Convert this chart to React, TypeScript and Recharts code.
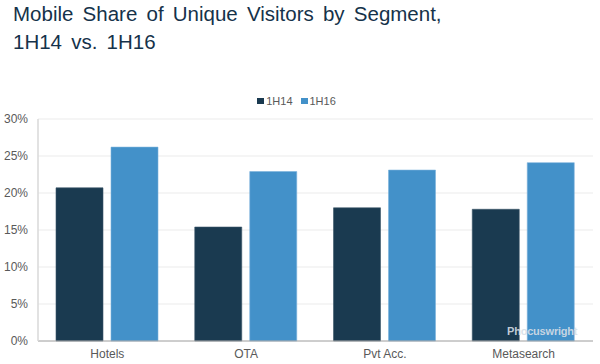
import { Bar, BarChart, CartesianGrid, Legend, XAxis, YAxis } from "recharts";

const segments = ["Hotels", "OTA", "Pvt Acc.", "Metasearch"];
const share1H14 = [20.7, 15.4, 18.0, 17.8];
const share1H16 = [26.2, 22.9, 23.1, 24.1];
const yTicks = [0, 5, 10, 15, 20, 25, 30];

const DARK = "#1a3a50";
const LIGHT = "#4391c9";
const FONT = '"Liberation Sans", Arial, sans-serif';

const seriesInfo = [
  { key: "h14", label: "1H14", color: DARK },
  { key: "h16", label: "1H16", color: LIGHT },
];

function LegendContent() {
  return (
    <div
      style={{
        height: 27,
        display: "flex",
        justifyContent: "center",
        alignItems: "flex-start",
        paddingTop: 3,
        boxSizing: "border-box",
        fontFamily: FONT,
        fontSize: 11,
        lineHeight: "12px",
        color: "#595959",
      }}
    >
      {seriesInfo.map((s, i) => (
        <span key={s.key} style={{ display: "flex", alignItems: "center", marginLeft: i ? 8 : 0 }}>
          <span style={{ width: 7, height: 6, background: s.color, marginRight: 2, display: "inline-block" }} />
          {s.label}
        </span>
      ))}
    </div>
  );
}

export default function App() {
  const data = segments.map((s, i) => ({ name: s, h14: share1H14[i], h16: share1H16[i] }));
  return (
    <div style={{ position: "absolute", left: 0, top: 0, width: 600, height: 364, background: "#fff" }}>
      <div
        style={{
          position: "absolute",
          left: 13,
          top: 0,
          fontFamily: FONT,
          fontSize: 20.5,
          lineHeight: "27.6px",
          wordSpacing: 3.5,
          color: "#15324a",
          whiteSpace: "nowrap",
        }}
      >
        Mobile Share of Unique Visitors by Segment,
        <br />
        1H14 vs. 1H16
      </div>
      <BarChart
        width={600}
        height={364}
        data={data}
        margin={{ top: 92, right: 7, bottom: 0, left: 0 }}
        barSize={47}
        barGap={8}
        style={{ fontFamily: FONT }}
      >
        <Legend verticalAlign="top" align="center" content={<LegendContent />} />
        <CartesianGrid vertical={false} stroke="#ebebeb" />
        <XAxis
          dataKey="name"
          height={23}
          tickLine={false}
          axisLine={{ stroke: "#a6a6a6" }}
          tick={{ fontSize: 12, fill: "#595959" }}
        />
        <YAxis
          width={38}
          domain={[0, 30]}
          ticks={yTicks}
          tickFormatter={(v) => `${v}%`}
          tickLine={false}
          tickMargin={4}
          axisLine={{ stroke: "#d9d9d9", strokeWidth: 1.5 }}
          tick={{ fontSize: 12, fill: "#595959" }}
        />
        <Bar dataKey="h14" name="1H14" fill={DARK} stroke="#3b5568" strokeWidth={0.6} isAnimationActive={false} />
        <Bar dataKey="h16" name="1H16" fill={LIGHT} stroke="#7ab2dc" strokeWidth={0.6} isAnimationActive={false} />
      </BarChart>
      <div
        style={{
          position: "absolute",
          left: 507,
          top: 325,
          fontFamily: FONT,
          fontSize: 11,
          fontWeight: "bold",
          color: "rgba(214,222,230,0.9)",
          letterSpacing: -0.2,
        }}
      >
        Phocuswright
      </div>
    </div>
  );
}
